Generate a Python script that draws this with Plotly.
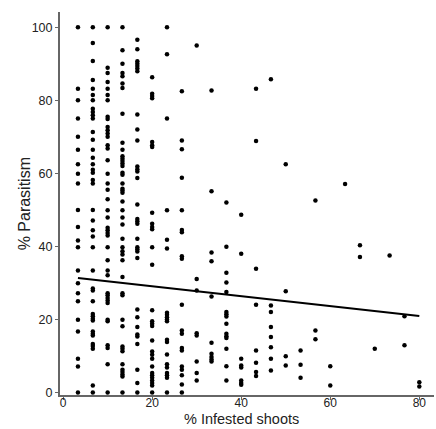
import numpy as np
import plotly.graph_objects as go

# % infested shoots (x columns) and % parasitism values observed at each
x_levels = [3.33, 6.67, 10.0, 13.33, 16.67, 20.0, 23.33, 26.67, 30.0, 33.33, 36.67,
            40.0, 43.33, 46.67, 50.0, 53.33, 56.67, 60.0, 63.33, 66.67, 70.0, 73.33,
            76.67, 80.0]

y_3 = [100, 83.2, 80, 75, 70, 66.5, 62.5, 59.9, 57.2, 50, 45.3, 41.6, 39.8, 33.4, 29.9,
       27.2, 25, 19.9, 16.7, 9.2, 7.1, 0]
y_7 = [100, 95.7, 90.8, 85.6, 83.2, 81.5, 80, 77.7, 76.8, 75.9, 75, 71.3, 69.2, 66.5,
       64.3, 62.5, 61, 60.2, 58.2, 57.2, 50, 47.1, 44.4, 42.7, 39.8, 33.4, 28.5, 27.9,
       25, 21.5, 20.9, 20.2, 19.7, 16.7, 16.1, 15.6, 13.3, 12.7, 12, 1.9, 0]
y_10 = [100, 88.9, 87.5, 85, 83.2, 81.5, 80, 75.5, 74.9, 72.7, 71.8, 70.9, 70, 67.7,
        66.8, 63.6, 59.9, 57.2, 55.5, 52.9, 49.9, 47.9, 45.1, 44.4, 43.7, 43, 39.8,
        36.2, 33.4, 32.1, 27.2, 26.6, 25.9, 25.2, 24.5, 19.9, 19.5, 12.9, 12.2, 7.7, 0]
y_13 = [100, 93.7, 90, 87.5, 86.6, 84.6, 83.4, 76.3, 68.4, 66.5, 64.7, 64, 63.4, 62.7,
        62, 60.2, 59.6, 57.2, 55.8, 55.3, 54.7, 52.3, 49.9, 47.9, 46, 42.1, 39.8, 38.7,
        37.8, 36.2, 31.6, 27.2, 26.6, 19.9, 18.1, 12.6, 12, 11.3, 7.7, 6.2, 5.6, 4.9,
        4.4, 0]
y_17 = [96.6, 94, 90.7, 90, 89.4, 88.7, 88, 76.1, 72, 69, 61.9, 61.1, 60.5, 58.7, 51.5,
        47.5, 46.9, 46.2, 42.1, 39.8, 39.2, 38.6, 36.8, 22.7, 20.6, 17.9, 15.9, 15.3,
        13.3, 6.2, 2.6, 0]
y_20 = [86.3, 81.8, 81.2, 80.6, 68.6, 67.7, 67.2, 49.2, 46.2, 45.3, 44.7, 39.8, 35,
        22.5, 19.5, 18.8, 18.2, 14.2, 11.2, 10.3, 9.2, 7.1, 5.3, 4.7, 4.0, 3.3, 2.6,
        1.9, 0]
y_23 = [100, 92.6, 75, 49.9, 41.8, 39.4, 21.8, 21.3, 20.6, 20, 19.5, 14.4, 13.8, 10.4,
        7.7, 6.8, 5.3, 4.7, 4.0, 0]
y_27 = [82.5, 69, 66.6, 58.8, 49.9, 44.5, 43.9, 37.3, 36.6, 24, 17, 16.1, 12.2, 11.5,
        7.1, 6.2, 4.7, 2.2, 0]
y_30 = [95, 31.1, 27.9, 16.2, 15.6, 8.5, 5.3, 3.3]
y_33 = [82.7, 55.1, 38.3, 35.9, 26.3, 13.6, 10.6, 9.7, 9.0, 8.5]
y_37 = [52, 39.9, 32.8, 30.1, 27.5, 22, 21.4, 20.8, 18.8, 16.1, 15.4, 14.9, 12, 7.2, 3.3]
y_40 = [48.7, 38, 9.2, 7.4, 6.8, 3.3, 2.6, 2.1]
y_43 = [83.2, 68.9, 33.9, 24, 11.5, 8.1, 5.6, 4.5]
y_47 = [85.8, 23.8, 22, 17.9, 15.2, 12.4, 9.2, 6]
y_50 = [62.5, 27.7, 9.9, 7.4]
y_53 = [11.5, 7.6, 4]
y_57 = [52.6, 17, 14.6]
y_60 = [7.2, 1.9]
y_63 = [57.1]
y_67 = [40.3, 37.1]
y_70 = [12]
y_73 = [37.5]
y_77 = [20.9, 12.9]
y_80 = [2.8, 1.6]

y_columns = [y_3, y_7, y_10, y_13, y_17, y_20, y_23, y_27, y_30, y_33, y_37, y_40,
             y_43, y_47, y_50, y_53, y_57, y_60, y_63, y_67, y_70, y_73, y_77, y_80]

# fitted trend line as printed in the figure (model coefficients)
fit_intercept = 31.8
fit_slope = -0.136

x_ticks = [0, 20, 40, 60, 80]
y_ticks = [0, 20, 40, 60, 80, 100]
x_title = "% Infested shoots"
y_title = "% Parasitism"

xs, ys = [], []
for xv, col in zip(x_levels, y_columns):
    xs += [xv] * len(col)
    ys += col
xs = np.array(xs)
ys = np.array(ys)

line_x = np.array([xs.min(), xs.max()])
line_y = fit_intercept + fit_slope * line_x

fig = go.Figure()
fig.add_trace(go.Scatter(x=xs, y=ys, mode="markers",
                         marker=dict(color="black", size=4.5, line=dict(width=0)),
                         hoverinfo="x+y"))
fig.add_trace(go.Scatter(x=line_x, y=line_y, mode="lines",
                         line=dict(color="black", width=2), hoverinfo="skip"))

font_family = "Liberation Sans, Arial, sans-serif"
axis_common = dict(showgrid=False, zeroline=False, showline=True, linecolor="#666666",
                   linewidth=2, ticks="outside", ticklen=3, tickwidth=1, tickcolor="#666666",
                   automargin=False)

fig.update_layout(
    width=436, height=429,
    margin=dict(l=60, r=2, t=12, b=34),
    paper_bgcolor="white", plot_bgcolor="white",
    showlegend=False,
    xaxis=dict(range=[-0.7, 83.3], tickvals=x_ticks, ticklabelstandoff=-7,
               tickfont=dict(family=font_family, size=12, color="#222222"), **axis_common),
    yaxis=dict(range=[-0.7, 104.2], tickvals=y_ticks,
               tickfont=dict(family=font_family, size=12.5, color="#222222"), **axis_common),
    annotations=[
        dict(text=x_title, xref="paper", yref="paper", x=0.484, y=-0.0885,
             xanchor="center", yanchor="bottom", showarrow=False,
             font=dict(family=font_family, size=14.5, color="#222222")),
        dict(text=y_title, xref="paper", yref="paper", x=-0.094, y=0.5,
             xanchor="center", yanchor="middle", textangle=-90, showarrow=False,
             font=dict(family=font_family, size=16, color="#222222")),
    ],
)

fig.write_html("out.html", config={"displayModeBar": False},
               post_script="document.body.style.margin='0';document.body.style.overflow='hidden';")
